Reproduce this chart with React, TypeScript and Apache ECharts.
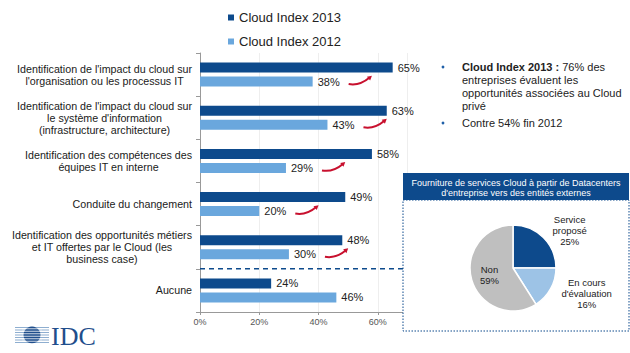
import React, { useEffect, useRef } from "react";
import * as echarts from "echarts";

const categories = [
  "Identification de l'impact du cloud sur\nl'organisation ou les processus IT",
  "Identification de l'impact du cloud sur\nle système d'information\n(infrastructure, architecture)",
  "Identification des compétences des\néquipes IT en interne",
  "Conduite du changement",
  "Identification des opportunités métiers\net IT offertes par le Cloud (les\nbusiness case)",
  "Aucune",
];
const values2013 = [65, 63, 58, 49, 48, 24];
const values2012 = [38, 43, 29, 20, 30, 46];
const arrowRows = [0, 1, 2, 3, 4];
const xTicks = [0, 20, 40, 60];
const pieNames = ["Service\nproposé", "En cours\nd'évaluation", "Non"];
const pieValues = [25, 16, 59];

const DARK = "#0d4a8c";
const LIGHT = "#6aa7dd";
const RED = "#c8102e";
const FONT = "Liberation Sans";

const GRID_LEFT = 200;
const GRID_TOP = 53;
const GRID_H = 259;
const GRID_W = 207.5;
const BOX_X = 403;

export default function App() {
  const ref = useRef<HTMLDivElement>(null);
  useEffect(() => {
    if (!ref.current) return;
    const chart = echarts.init(ref.current, undefined, { renderer: "svg" });
    const band = GRID_H / categories.length;
    const sepY = GRID_TOP + band * 5;

    const centerRich = (s: string) =>
      s
        .split("\n")
        .map((l) => `{c|${l}}`)
        .join("\n");

    const logoChildren: any[] = [];
    for (let i = 0; i < 7; i++) {
      const y = 327.5 + i * 2.5;
      logoChildren.push({
        type: "line",
        shape: { x1: 15, y1: y, x2: 49, y2: y },
        style: { stroke: "#8eaed0", lineWidth: 1.1 },
      });
    }
    logoChildren.push({
      type: "circle",
      shape: { cx: 32, cy: 335, r: 8.5 },
      style: { fill: "#1f4e8c" },
    });
    for (let i = 0; i < 7; i++) {
      const y = 327.5 + i * 2.5 + 1.25;
      logoChildren.push({
        type: "line",
        shape: { x1: 22, y1: y, x2: 42, y2: y },
        style: { stroke: "#ffffff", lineWidth: 0.8 },
      });
    }

    const option: any = {
      animation: false,
      textStyle: { fontFamily: FONT },
      legend: {
        data: ["Cloud Index 2013", "Cloud Index 2012"],
        orient: "vertical",
        left: 223,
        top: 6,
        itemGap: 11,
        itemWidth: 6,
        itemHeight: 6,
        icon: "rect",
        textStyle: { fontSize: 13, color: "#222", fontFamily: FONT },
      },
      grid: { left: GRID_LEFT, top: GRID_TOP, width: GRID_W, height: GRID_H, containLabel: false },
      xAxis: {
        type: "value",
        min: 0,
        max: 70,
        interval: 20,
        axisLine: { show: true, lineStyle: { color: "#999" } },
        axisTick: { show: true, length: 3, lineStyle: { color: "#999" } },
        splitLine: { show: true, lineStyle: { color: "#eeeeee" } },
        axisLabel: {
          fontSize: 9,
          color: "#555",
          margin: 5,
          formatter: (v: number) => (xTicks.includes(v) ? v + "%" : ""),
        },
      },
      yAxis: {
        type: "category",
        inverse: true,
        data: categories,
        axisLine: { show: true, lineStyle: { color: "#999" } },
        axisTick: { show: true, length: 4, lineStyle: { color: "#999" } },
        axisLabel: {
          margin: 8,
          align: "right",
          color: "#1a1a1a",
          fontSize: 10.7,
          lineHeight: 12,
          formatter: (v: string) => centerRich(v),
          rich: { c: { align: "center", fontSize: 10.7, lineHeight: 12, color: "#1a1a1a", fontFamily: FONT } },
        },
      },
      series: [
        {
          name: "Cloud Index 2013",
          type: "bar",
          data: values2013,
          barWidth: 10,
          barGap: "40%",
          itemStyle: { color: DARK },
          label: { show: true, position: "right", distance: 5, formatter: "{c}%", fontSize: 11, color: "#222" },
        },
        {
          name: "Cloud Index 2012",
          type: "bar",
          data: values2012,
          barWidth: 10,
          barGap: "40%",
          itemStyle: { color: LIGHT },
          label: { show: true, position: "right", distance: 5, formatter: "{c}%", fontSize: 11, color: "#222" },
        },
        {
          type: "custom",
          name: "arrows",
          data: arrowRows.map((i) => [values2012[i], i]),
          encode: { x: 0, y: 1 },
          z: 5,
          renderItem: (params: any, api: any) => {
            const v = api.value(0);
            const c = api.value(1);
            const p = api.coord([v, c]);
            const x0 = p[0] + 36;
            const y0 = p[1] + 9.5;
            const x1 = x0 + 21;
            const y1 = p[1] + 3;
            const cx = x0 + 11;
            const cy = y0 + 2;
            let dx = x1 - cx;
            let dy = y1 - cy;
            const len = Math.sqrt(dx * dx + dy * dy);
            dx /= len;
            dy /= len;
            const px = -dy;
            const py = dx;
            return {
              type: "group",
              children: [
                {
                  type: "bezierCurve",
                  shape: { x1: x0, y1: y0, x2: x1, y2: y1, cpx1: cx, cpy1: cy },
                  style: { stroke: RED, lineWidth: 2, fill: null },
                },
                {
                  type: "polygon",
                  shape: {
                    points: [
                      [x1 + dx * 3, y1 + dy * 3],
                      [x1 - dx * 1.5 + px * 2.5, y1 - dy * 1.5 + py * 2.5],
                      [x1 - dx * 1.5 - px * 2.5, y1 - dy * 1.5 - py * 2.5],
                    ],
                  },
                  style: { fill: RED },
                },
              ],
            };
          },
        },
        {
          type: "pie",
          z: 20,
          center: [513, 268],
          radius: 43,
          startAngle: 90,
          clockwise: true,
          itemStyle: { borderColor: "#fff", borderWidth: 1.5 },
          label: {
            show: true,
            position: "outside",
            distanceToLabelLine: 2,
            color: "#222",
            fontSize: 9.5,
            lineHeight: 11,
            formatter: (p: any) => centerRich(p.name + "\n" + p.value + "%"),
            rich: { c: { align: "center", fontSize: 9.5, lineHeight: 11, color: "#222", fontFamily: FONT } },
          },
          labelLine: { show: false, length: 10, length2: 0 },
          data: pieNames.map((n, i) => ({
            name: n,
            value: pieValues[i],
            itemStyle: { color: [DARK, "#9dc3e6", "#bfbfbf"][i] },
            label: i === 2 ? { position: "inside" } : undefined,
          })),
        },
      ],
      graphic: [
        {
          type: "line",
          z: 10,
          shape: { x1: GRID_LEFT, y1: sepY, x2: BOX_X, y2: sepY },
          style: { stroke: DARK, lineWidth: 1.5, lineDash: [5, 4] },
        },
        {
          type: "circle",
          shape: { cx: 443, cy: 67, r: 1.4 },
          style: { fill: "#2060a8" },
        },
        {
          type: "circle",
          shape: { cx: 443, cy: 123, r: 1.4 },
          style: { fill: "#2060a8" },
        },
        {
          type: "text",
          x: 462,
          y: 60.5,
          style: {
            text: "{b|Cloud Index 2013 :} 76% des\nentreprises évaluent les\nopportunités associées au Cloud\nprivé",
            fontSize: 11,
            lineHeight: 13,
            fontFamily: FONT,
            fill: "#222",
            rich: {
              b: { fontWeight: "bold", fontSize: 11, lineHeight: 13, fontFamily: FONT, fill: "#222" },
            },
          },
        },
        {
          type: "text",
          x: 462,
          y: 116.5,
          style: { text: "Contre 54% fin 2012", fontSize: 11, lineHeight: 13, fontFamily: FONT, fill: "#222" },
        },
        {
          type: "rect",
          z: 15,
          shape: { x: BOX_X, y: 200, width: 226, height: 131 },
          style: { fill: "#fff", stroke: DARK, lineWidth: 1, lineDash: [1.5, 1.5] },
        },
        {
          type: "rect",
          z: 16,
          shape: { x: BOX_X, y: 173, width: 226, height: 27 },
          style: { fill: DARK },
        },
        {
          type: "text",
          z: 17,
          x: 516,
          y: 188,
          style: {
            text: "Fourniture de services Cloud à partir de Datacenters\nd'entreprise vers des entités externes",
            fontSize: 9,
            lineHeight: 10,
            fontFamily: FONT,
            fill: "#fff",
            align: "center",
            verticalAlign: "middle",
          },
        },
        { type: "group", children: logoChildren },
        {
          type: "text",
          x: 51,
          y: 336,
          style: {
            text: "IDC",
            fontSize: 26,
            fontFamily: "Liberation Serif",
            fill: "#1f4e8c",
            verticalAlign: "middle",
          },
        },
      ],
    };
    chart.setOption(option);
    return () => chart.dispose();
  }, []);
  return <div ref={ref} style={{ width: 630, height: 353, position: "absolute", left: 0, top: 0 }} />;
}
